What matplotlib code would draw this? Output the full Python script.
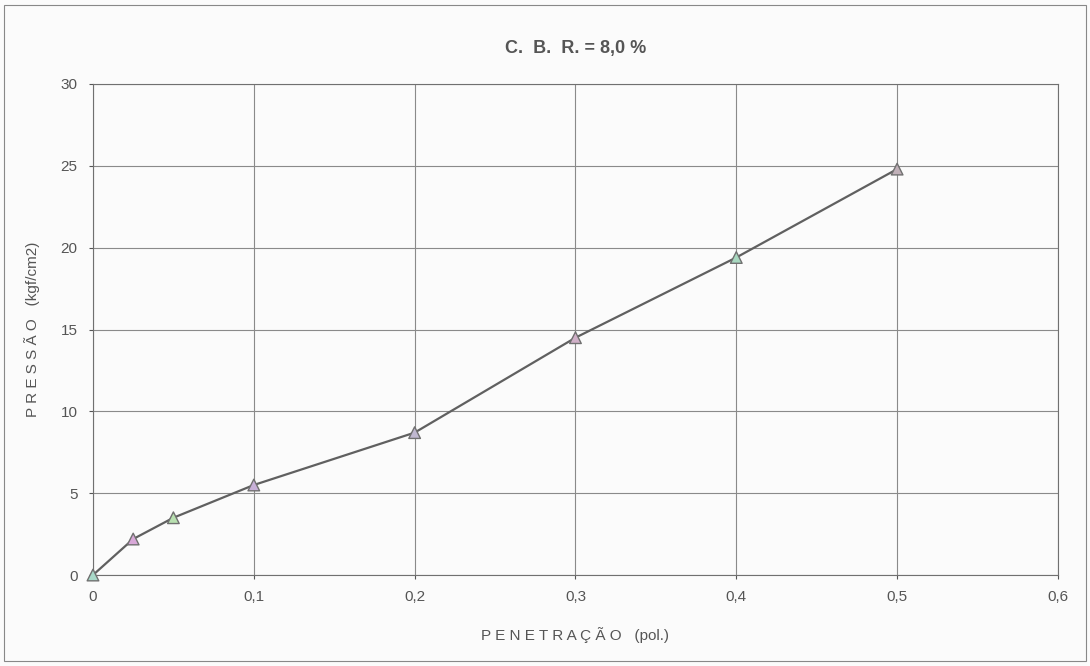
# Curva de pressão x penetração (ensaio CBR)
import matplotlib.pyplot as plt
from matplotlib.patches import Rectangle

plt.rcParams['font.family'] = ['Liberation Sans', 'DejaVu Sans']

# Dados
penetracao = [0, 0.025, 0.05, 0.1, 0.2, 0.3, 0.4, 0.5]
pressao = [0, 2.2, 3.5, 5.5, 8.7, 14.5, 19.4, 24.8]
cores_marcador = ['#a8d8c8', '#d8a8d8', '#b8e0b0', '#c8b0d8', '#c0b8d0', '#d0b0c8', '#a8d8c0', '#c0b0b8']
x_ticks = [0, 0.1, 0.2, 0.3, 0.4, 0.5, 0.6]
x_rotulos = ['0', '0,1', '0,2', '0,3', '0,4', '0,5', '0,6']
y_ticks = [0, 5, 10, 15, 20, 25, 30]

cinza = '#555555'

fig = plt.figure(figsize=(10.9, 6.66), dpi=100)
fig.patch.set_facecolor('#fbfbfb')
# moldura externa
fig.patches.append(Rectangle((0.004, 0.008), 0.992, 0.984, transform=fig.transFigure,
                             fill=False, edgecolor='#888888', linewidth=0.8))

ax = fig.add_axes([0.0853, 0.1366, 0.8853, 0.7373])
ax.set_facecolor('#fbfbfb')

ax.plot(penetracao, pressao, color='#606060', linewidth=1.6, zorder=3)
ax.scatter(penetracao, pressao, marker='^', s=70, c=cores_marcador,
           edgecolors='#707070', linewidths=1.0, zorder=4, clip_on=False)

ax.set_xlim(0, 0.6)
ax.set_ylim(0, 30)
ax.set_xticks(x_ticks)
ax.set_xticklabels(x_rotulos)
ax.set_yticks(y_ticks)
ax.grid(True, color='#8a8a8a', linewidth=0.8)
ax.tick_params(colors=cinza, labelsize=11, length=3, pad=8)
for s in ax.spines.values():
    s.set_color('#707070')
    s.set_linewidth(0.8)

ax.set_title('C.  B.  R. = 8,0 %', color=cinza, fontsize=13, fontweight='bold', pad=22)
ax.set_xlabel('P E N E T R A Ç Ã O   (pol.)', color=cinza, fontsize=11, labelpad=16)
ax.set_ylabel('P R E S S Ã O   (kgf/cm2)', color=cinza, fontsize=11, labelpad=15)

plt.savefig('out.png', dpi=100, facecolor=fig.get_facecolor())
